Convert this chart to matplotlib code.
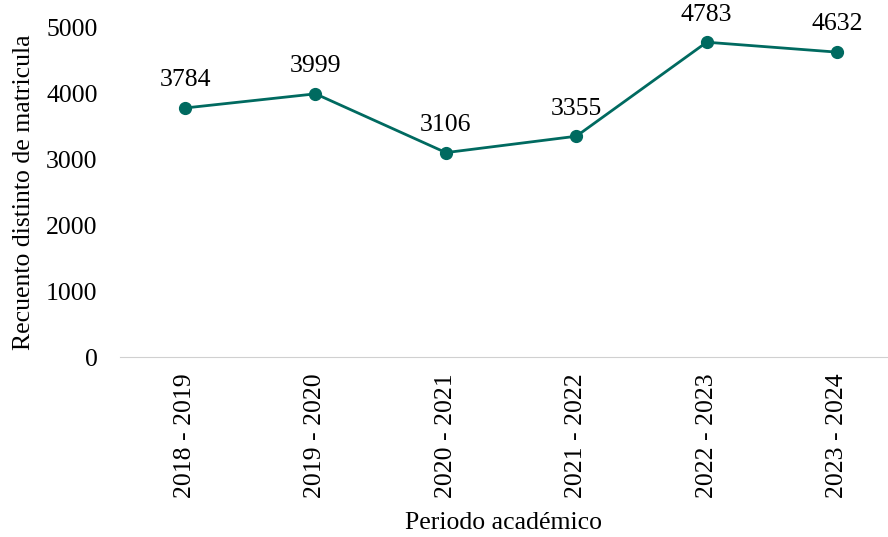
import matplotlib
matplotlib.use("Agg")
import matplotlib.pyplot as plt

periodos = ["2018 - 2019", "2019 - 2020", "2020 - 2021",
            "2021 - 2022", "2022 - 2023", "2023 - 2024"]
matriculas = [3784, 3999, 3106, 3355, 4783, 4632]
yticks = [0, 1000, 2000, 3000, 4000, 5000]

plt.rcParams['font.family'] = ['Liberation Serif', 'DejaVu Serif']
color = '#006a60'
fs = 18.5

fig = plt.figure(figsize=(8.88, 5.37), dpi=100)
ax = fig.add_axes([0.135, 0.335, 0.865, 0.613])

x = list(range(len(periodos)))
ax.plot(x, matriculas, color=color, linewidth=2, marker='o', markersize=8.5,
        clip_on=False)
for xi, v in zip(x, matriculas):
    ax.annotate(str(v), (xi, v), xytext=(0, 12), textcoords='offset points',
                ha='center', va='bottom', fontsize=fs)

ax.set_xlim(-0.5, 5.39)
ax.set_ylim(0, 5000)
ax.set_yticks(yticks)
ax.set_xticks(x)
ax.set_xticklabels(periodos, rotation=90)
ax.tick_params(axis='y', length=0, labelsize=fs, pad=16)
ax.tick_params(axis='x', length=0, labelsize=fs, pad=12)
for s in ['top', 'right', 'left']:
    ax.spines[s].set_visible(False)
ax.spines['bottom'].set_color('#d0d0d0')
ax.set_xlabel("Periodo académico", fontsize=fs, labelpad=10)
ax.set_ylabel("Recuento distinto de matricula", fontsize=fs, labelpad=8)

fig.savefig("out.png", dpi=100)
